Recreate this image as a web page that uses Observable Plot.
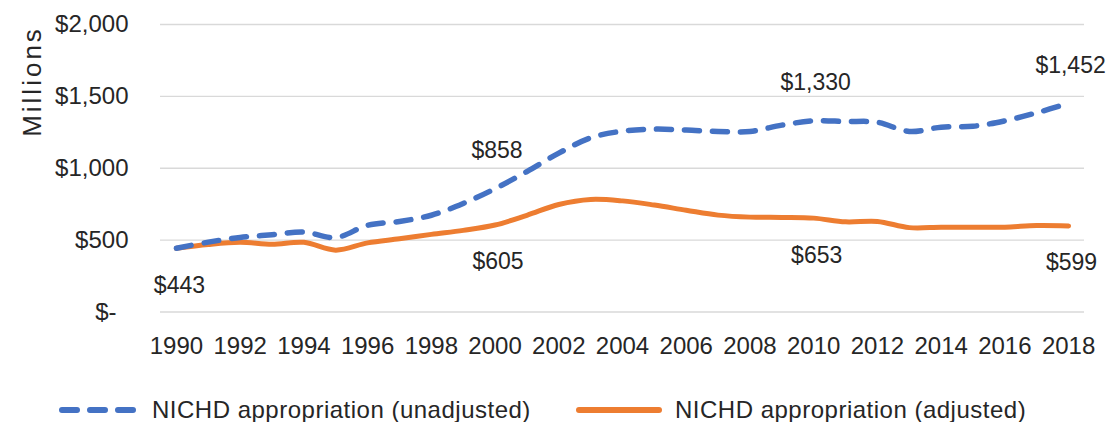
<!DOCTYPE html>
<html>
<head>
<meta charset="utf-8">
<script src="https://cdn.jsdelivr.net/npm/d3@7"></script>
<script src="https://cdn.jsdelivr.net/npm/@observablehq/plot@0.6"></script>
<style>
  body { margin: 0; background: #fff; font-family: "Liberation Sans", Arial, sans-serif; }
  #wrap { position: relative; width: 1112px; height: 422px; overflow: hidden; }
  #chart { position: absolute; left: 0; top: 0; }
  .leg { position: absolute; top: 396px; height: 28px; display: flex; align-items: center; font-size: 24px; color: #262626; letter-spacing: 0.5px; white-space: nowrap; }
  .leg svg { display: block; }
</style>
</head>
<body>
<div id="wrap">
  <div id="chart"></div>
  <div class="leg" style="left:58px"><svg width="82" height="14"><line x1="4" x2="78" y1="7" y2="7" stroke="#4472C4" stroke-width="6" stroke-linecap="round" stroke-dasharray="15 13"/></svg><span id="lab0" style="margin-left:12px"></span></div>
  <div class="leg" style="left:575px"><svg width="88" height="14"><line x1="4" x2="84" y1="7" y2="7" stroke="#ED7D31" stroke-width="6" stroke-linecap="round"/></svg><span id="lab1" style="margin-left:12px"></span></div>
</div>
<script>
// ---- data ----
const years = [1990,1991,1992,1993,1994,1995,1996,1997,1998,1999,2000,2001,2002,2003,2004,2005,2006,2007,2008,2009,2010,2011,2012,2013,2014,2015,2016,2017,2018];
const unadjusted = [443,486,519,537,556,518,603,630,673,755,858,977,1105,1212,1258,1272,1266,1256,1256,1300,1330,1325,1320,1256,1286,1292,1330,1386,1452];
const adjusted =   [443,470,485,471,485,430,481,509,540,568,605,673,748,783,773,744,708,674,660,658,653,627,630,587,590,590,590,602,599];
const seriesNames = ["NICHD appropriation (unadjusted)", "NICHD appropriation (adjusted)"];
const seriesColors = ["#4472C4", "#ED7D31"];
const yTicks = [0, 500, 1000, 1500, 2000];
const xTicks = [1990,1992,1994,1996,1998,2000,2002,2004,2006,2008,2010,2012,2014,2016,2018];
const labelYearsUnadj = [2000, 2010, 2018];
const labelYearsAdj = [1990, 2000, 2010, 2018];
const axisTitle = "Millions";

const fmt = v => v === 0 ? "$-\u2002" : "$" + d3.format(",")(v);
const unadjRows = years.map((y, i) => ({year: y, value: unadjusted[i]}));
const adjRows = years.map((y, i) => ({year: y, value: adjusted[i]}));

const chart = Plot.plot({
  width: 1112,
  height: 360,
  marginLeft: 160,
  marginRight: 28,
  marginTop: 24,
  marginBottom: 48.5,
  style: {fontFamily: "'Liberation Sans', Arial, sans-serif", fontSize: "23px", color: "#262626", background: "#fff"},
  x: {domain: [1989.5, 2018.5]},
  y: {domain: [0, 2000]},
  marks: [
    Plot.gridY(yTicks, {stroke: "#d9d9d9", strokeOpacity: 1, strokeWidth: 1.3}),
    Plot.axisY(yTicks, {tickSize: 0, tickPadding: 32, tickFormat: fmt, label: null, fontSize: 24}),
    Plot.axisX(xTicks, {tickSize: 0, tickPadding: 25, tickFormat: d => String(d), label: null, fontSize: 24}),
    Plot.line(adjRows, {x: "year", y: "value", stroke: seriesColors[1], strokeWidth: 5, curve: "catmull-rom"}),
    Plot.line(unadjRows, {x: "year", y: "value", stroke: seriesColors[0], strokeWidth: 5.5, strokeDasharray: "15 13", strokeLinecap: "round", curve: "catmull-rom"}),
    Plot.text(unadjRows.filter(d => labelYearsUnadj.includes(d.year)), {x: "year", y: "value", text: d => fmt(d.value), dy: -38, dx: 2, fill: "#262626", fontSize: 23}),
    Plot.text(adjRows.filter(d => labelYearsAdj.includes(d.year)), {x: "year", y: "value", text: d => fmt(d.value), dy: 37, dx: 3, fill: "#262626", fontSize: 23}),
    Plot.text([axisTitle], {frameAnchor: "top-left", textAnchor: "middle", dx: -138, dy: 57, rotate: -90, fill: "#262626", fontSize: 26})
  ]
});
document.getElementById("chart").appendChild(chart);
d3.select(chart).selectAll("text").filter(function() { return this.textContent === axisTitle; }).attr("letter-spacing", "3px");
document.getElementById("lab0").textContent = seriesNames[0];
document.getElementById("lab1").textContent = seriesNames[1];
</script>
</body>
</html>
